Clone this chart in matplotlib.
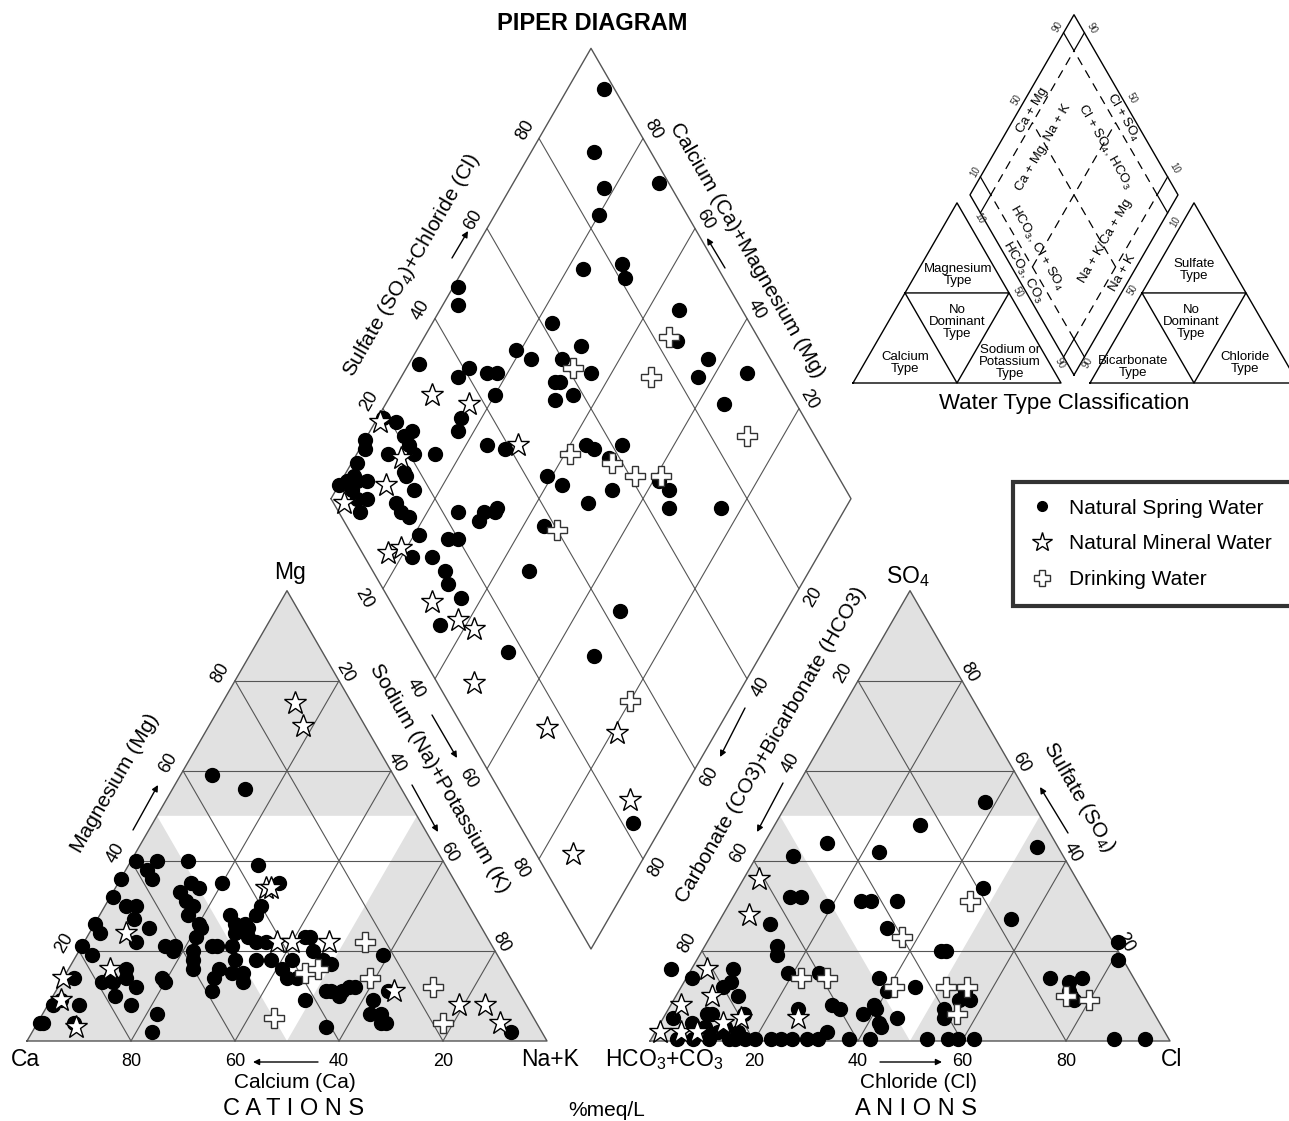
import numpy as np
import matplotlib.pyplot as plt
from matplotlib.lines import Line2D

plt.rcParams['font.family'] = ['Liberation Sans', 'DejaVu Sans']
plt.rcParams['mathtext.fontset'] = 'custom'
plt.rcParams['mathtext.rm'] = 'Liberation Sans'
plt.rcParams['mathtext.it'] = 'Liberation Sans'

# ---------------- data, %meq/L ----------------
# cation triangle: (Mg, Na+K); Ca is the remainder
spring_cat_mg = [59, 56, 40, 40, 38, 36, 40, 36, 35, 33, 34, 35, 39, 35, 32, 30, 30, 31, 30, 28,
                 27, 26, 24, 25, 22, 26, 25, 28, 26, 30, 28, 26, 25, 24, 23, 21, 21, 21, 22, 23,
                 22, 21, 21, 20, 20, 21, 19, 16, 14, 13, 14, 12, 14, 16, 18, 18, 16, 15, 15, 14,
                 11, 18, 18, 16, 18, 14, 23, 23, 20, 18, 17, 9, 11, 10, 12, 19, 9, 6, 6, 4,
                 11, 3, 2, 2, 6, 10, 8, 8, 8, 9, 14, 4, 4, 4, 14, 13, 13, 13, 11, 11, 12, 4]
spring_cat_nak = [6, 14, 1, 5, 4, 6, 11, 0, 14, 13, 16, 20, 25, 31, 0.5, 4, 6, 15, 17, 17,
                  7, 0, 2, 11, 10, 20, 21, 25, 27, 30, 30, 29, 30, 28, 21, 25, 26, 29, 33, 31,
                  35, 16, 18, 18, 22, 0, 3, 11, 9, 8, 12, 15, 19, 24, 23, 31, 29, 32, 34, 29,
                  30, 35, 38, 41, 42, 45, 42, 43, 45, 48, 50, 49, 52, 55, 56, 59, 62, 63, 65, 66,
                  64, 56, 92, 23, 22, 12, 16, 6, 1, 2, 2, 0.5, 1, 7, 43, 10, 20, 35, 53, 55, 57, 67]
mineral_cat_mg = [75, 70, 34, 34, 24, 22, 22, 22, 16, 14, 9, 3, 11, 8, 8, 4]
mineral_cat_nak = [14, 18, 29, 30, 7, 37, 40, 47, 8, 0, 2, 8, 65, 79, 84, 89]
drinking_cat_mg = [22, 14, 15, 16, 12, 4, 5]
drinking_cat_nak = [54, 59, 46, 48, 72, 78, 45]

# anion triangle: (SO4, Cl); HCO3+CO3 is the remainder
spring_an_so4 = [53, 48, 44, 41, 42, 43, 34, 32, 32, 30, 31, 31, 31, 27, 26, 25, 21, 19, 20, 20,
                 22, 18, 16, 14, 16, 13, 15, 15, 12, 10, 6, 5, 14, 11, 12, 8, 7, 6, 8, 7,
                 4, 3, 5, 7, 2, 7, 11, 9, 9, 14, 14, 13, 11, 10, 9, 5, 6, 4, 3, 2,
                 3, 2, 6,
                 0.5, 0.5, 0.5, 0.5, 0.5, 0.5, 0.5, 0.5, 0.5, 0.5, 0.5, 0.5, 0.5, 0.5, 0.5, 0.5,
                 0.5, 0.5, 0.5, 0.5]
spring_an_cl = [38, 28, 12, 7, 23, 53, 47, 11, 13, 19, 25, 27, 32, 56, 10, 33, 14, 15, 46, 47,
                79, 81, -4, 1, 8, 9, 19, 25, 8, 12, 8, 2, 37, 40, 45, 31, 33, 38, 39, 40,
                42, 43, 45, 25, 33, 53, 55, 55, 57, 70, 76, 74, 75, 76, 77, 54, 9, 6, 9, 12,
                13, 16, 15,
                5, 8, 11, 15, 16, 18, 20, 23, 25, 27, 30, 32, 38, 42, 53, 57,
                59, 62, 89, 95]
mineral_an_so4 = [36, 28, 16, 10, 8, 5, 5, 2, 2, 2, 4]
mineral_an_cl = [3, 5, 3, 7, 2, 15, 26, 1, 5, 8, 12]
drinking_an_so4 = [31, 23, 14, 14, 12, 12, 12, 6, 10, 9]
drinking_an_cl = [46, 37, 22, 27, 41, 51, 55, 56, 75, 80]

# diamond: (Na+K, SO4+Cl)
spring_dia_nak = [7, 12, 18, 20, 28, 30, 32, 23, 1, 3, 23, 31, 19, 23, 29, 36, 30, 31, 32, 35,
                  46, 49, 57, 57, 65, 2, 12, 16, 18, 11, 20, 16, 17, 1, 4, 8, 7, 9, 11, 0,
                  1, 1, 6, 15, 24, 28, 11, 12, 15, 0, 1, 2, 3, 5, 3, 5, 7, 7, 13, 15,
                  17, 26, 31, 33, 33, 31, 39, 43, 44, 43, 45, 50, 49, 53, 50, 61, 64, 66, 21, 27,
                  29, 22, 26, 30, 32, 36, 35, 46, 68, 51, 68, 94, 66, 76]
spring_dia_so4cl = [98, 89, 87, 83, 98, 82, 81, 74, 48, 46, 62, 65, 52, 54, 60, 64, 56, 57, 54, 58,
                    88, 84, 88, 84, 86, 32, 41, 44, 46, 38, 43, 34, 32, 19, 21, 23, 21, 21, 21, 13,
                    12, 9, 16, 25, 36, 39, 17, 17, 17, 3, 5, 7, 7, 9, 5, 5, 7, 4, 12, 12,
                    13, 23, 28, 31, 30, 26, 44, 46, 38, 55, 56, 62, 58, 55, 49, 65, 66, 64, 13, 18,
                    20, 9, 13, 14, 13, 14, 7, 30, 43, 17, 33, 22, 94, 74]
mineral_dia_nak = [8, 16, 1, 9, 9, 3, 30, 17, 19, 31, 38, 42, 48, 67, 81, 91, 86]
mineral_dia_so4cl = [31, 37, 18, 18, 12, 2, 42, 5, 8, 8, 11, 13, 7, 16, 29, 24, 7]
drinking_dia_nak = [47, 32, 48, 73, 41, 50, 56, 61, 47, 80]
drinking_dia_so4cl = [83, 61, 75, 87, 51, 58, 61, 66, 40, 35]

# ---------------- layout ----------------
SIDE = 520.0
H = SIDE * np.sqrt(3) / 2
CAT0 = (27.0, 1041.0)
AN0 = (650.0, 1041.0)
DIA0 = (591.0, 949.0)

GREY = '#e1e1e1'
LINE = '#555555'


def cat_xy(mg, nak):
    mg = np.asarray(mg, float) / 100
    nak = np.asarray(nak, float) / 100
    return CAT0[0] + SIDE * (nak + mg / 2), CAT0[1] - H * mg


def an_xy(so4, cl):
    so4 = np.asarray(so4, float) / 100
    cl = np.asarray(cl, float) / 100
    return AN0[0] + SIDE * (cl + so4 / 2), AN0[1] - H * so4


def dia_xy(nak, so4cl):
    u = 1 - np.asarray(nak, float) / 100
    a = np.asarray(so4cl, float) / 100
    return DIA0[0] + SIDE / 2 * (a - u), DIA0[1] - H * (a + u)


fig = plt.figure(figsize=(12.89, 11.21), dpi=100)
ax = fig.add_axes([0, 0, 1, 1])
ax.set_xlim(0, 1289)
ax.set_ylim(1121, 0)
ax.axis('off')


def draw_ternary(xy):
    # xy(top, right) -> pixel position
    tx, ty = xy([0, 0, 100, 0], [0, 100, 0, 0])
    ax.fill(tx, ty, color=GREY, lw=0, zorder=0)
    wx, wy = xy([50, 50, 0], [0, 50, 50])
    ax.fill(wx, wy, color='white', lw=0, zorder=0)
    for v in (20, 40, 60, 80):
        for t, r in (([v, v], [0, 100 - v]), ([0, 100 - v], [v, v]), ([100 - v, 0], [0, 100 - v])):
            gx, gy = xy(t, r)
            ax.plot(gx, gy, color=LINE, lw=0.8, zorder=1)
    ax.plot(tx, ty, color=LINE, lw=1.0, zorder=1)


draw_ternary(cat_xy)
draw_ternary(an_xy)

# diamond grid
for v in (20, 40, 60, 80):
    gx, gy = dia_xy([v, v], [0, 100])
    ax.plot(gx, gy, color=LINE, lw=0.8, zorder=1)
    gx, gy = dia_xy([0, 100], [v, v])
    ax.plot(gx, gy, color=LINE, lw=0.8, zorder=1)
ox, oy = dia_xy([0, 100, 100, 0, 0], [0, 0, 100, 100, 0])
ax.plot(ox, oy, color=LINE, lw=1.0, zorder=1)

# ---------------- samples ----------------
dot = dict(ls='none', marker='o', ms=10, color='black', zorder=3)
star = dict(ls='none', marker='*', ms=17, mfc='white', mec='black', mew=1.0, zorder=4)
plus = dict(ls='none', marker='P', ms=14, mfc='white', mec='#333333', mew=1.0, zorder=5)

ax.plot(*cat_xy(spring_cat_mg, spring_cat_nak), **dot)
ax.plot(*cat_xy(mineral_cat_mg, mineral_cat_nak), **star)
ax.plot(*cat_xy(drinking_cat_mg, drinking_cat_nak), **plus)

ax.plot(*an_xy(spring_an_so4, spring_an_cl), **dot)
ax.plot(*an_xy(mineral_an_so4, mineral_an_cl), **star)
ax.plot(*an_xy(drinking_an_so4, drinking_an_cl), **plus)

ax.plot(*dia_xy(spring_dia_nak, spring_dia_so4cl), **dot)
ax.plot(*dia_xy(mineral_dia_nak, mineral_dia_so4cl), **star)
ax.plot(*dia_xy(drinking_dia_nak, drinking_dia_so4cl), **plus)

# ---------------- tick labels ----------------
TK = 13
for v in (20, 40, 60, 80):
    x, y = cat_xy(0, 100 - v)
    ax.text(x, y + 21, str(v), fontsize=TK, ha='center', va='center')
    x, y = cat_xy(v, 0)
    ax.text(x - 15, y - 8, str(v), fontsize=TK, ha='center', va='center', rotation=60)
    x, y = cat_xy(100 - v, v)
    ax.text(x + 6, y - 8, str(v), fontsize=TK, ha='center', va='center', rotation=-60)

    x, y = an_xy(0, v)
    ax.text(x, y + 21, str(v), fontsize=TK, ha='center', va='center')
    x, y = an_xy(100 - v, 0)
    ax.text(x - 15, y - 8, str(v), fontsize=TK, ha='center', va='center', rotation=60)
    x, y = an_xy(v, 100 - v)
    ax.text(x + 7, y - 8, str(v), fontsize=TK, ha='center', va='center', rotation=-60)

    x, y = dia_xy(0, v)
    ax.text(x - 14, y - 8, str(v), fontsize=TK, ha='center', va='center', rotation=60)
    x, y = dia_xy(100 - v, 100)
    ax.text(x + 10, y - 9, str(v), fontsize=TK, ha='center', va='center', rotation=-60)
    x, y = dia_xy(v, 0)
    ax.text(x - 19, y + 10, str(v), fontsize=TK, ha='center', va='center', rotation=-60)
    x, y = dia_xy(100, 100 - v)
    ax.text(x + 14, y + 8, str(v), fontsize=TK, ha='center', va='center', rotation=60)

# ---------------- axis titles ----------------
AT = 15
ax.text(592, 23, 'PIPER DIAGRAM', fontsize=17, fontweight='bold', ha='center', va='center')
ax.text(411, 265, 'Sulfate (SO$_4$)+Chloride (Cl)', fontsize=AT, rotation=60, ha='center', va='center')
ax.text(747, 250, 'Calcium (Ca)+Magnesium (Mg)', fontsize=AT, rotation=-60, ha='center', va='center')
ax.text(115, 783, 'Magnesium (Mg)', fontsize=AT, rotation=60, ha='center', va='center')
ax.text(440, 778, 'Sodium (Na)+Potassium (K)', fontsize=AT, rotation=-60, ha='center', va='center')
ax.text(771, 745, 'Carbonate (CO3)+Bicarbonate (HCO3)', fontsize=AT, rotation=60, ha='center', va='center')
ax.text(1079, 797, 'Sulfate (SO$_4$)', fontsize=AT, rotation=-60, ha='center', va='center')
ax.text(295, 1083, 'Calcium (Ca)', fontsize=AT, ha='center', va='center')
ax.text(918, 1083, 'Chloride (Cl)', fontsize=AT, ha='center', va='center')
ax.text(294, 1109, 'C A T I O N S', fontsize=17, ha='center', va='center')
ax.text(916, 1109, 'A N I O N S', fontsize=17, ha='center', va='center')
ax.text(607, 1110, '%meq/L', fontsize=AT, ha='center', va='center')

CN = 16.5
ax.text(25, 1060, 'Ca', fontsize=CN, ha='center', va='center')
ax.text(550, 1060, 'Na+K', fontsize=CN, ha='center', va='center')
ax.text(664, 1060, 'HCO$_3$+CO$_3$', fontsize=CN, ha='center', va='center')
ax.text(1172, 1060, 'Cl', fontsize=CN, ha='center', va='center')
ax.text(290, 572, 'Mg', fontsize=CN, ha='center', va='center')
ax.text(908, 577, 'SO$_4$', fontsize=CN, ha='center', va='center')

arrow = dict(arrowstyle='-|>', color='black', lw=1.0, mutation_scale=9, shrinkA=0, shrinkB=0)
for start, end in (((133, 830), (158, 785)),
                   ((432, 715), (457, 758)), ((412, 785), (438, 832)),
                   ((745, 708), (720, 757)), ((783, 783), (757, 832)),
                   ((1068, 833), (1040, 787)),
                   ((452, 258), (468, 231)), ((725, 268), (707, 238)),
                   ((318, 1062), (253, 1062)), ((880, 1062), (942, 1062))):
    ax.annotate('', xy=end, xytext=start, arrowprops=arrow)

# ---------------- legend ----------------
handles = [Line2D([], [], ls='none', marker='o', ms=7, color='black', label='Natural Spring Water'),
           Line2D([], [], ls='none', marker='*', ms=15, mfc='white', mec='black', mew=1.0,
                  label='Natural Mineral Water'),
           Line2D([], [], ls='none', marker='P', ms=12, mfc='white', mec='#333333', mew=1.0,
                  label='Drinking Water')]
leg = ax.legend(handles=handles, loc='upper left', mode='expand',
                bbox_to_anchor=(1013 / 1289, 1 - 482 / 1121 - 0.01, 290 / 1289, 0.01),
                fontsize=15, frameon=True, fancybox=False, borderaxespad=0, borderpad=0.8,
                labelspacing=0.8, handletextpad=0.7, handlelength=1.2)
leg.get_frame().set_edgecolor('black')
leg.get_frame().set_linewidth(3)

# ---------------- water type classification sketch ----------------
IS = 208.0
IH = IS * np.sqrt(3) / 2


def ins_triangle(x0, y0):
    ax.plot([x0, x0 + IS, x0 + IS / 2, x0], [y0, y0, y0 - IH, y0], color='black', lw=1.0)
    ax.plot([x0 + IS / 4, x0 + 3 * IS / 4, x0 + IS / 2, x0 + IS / 4],
            [y0 - IH / 2, y0 - IH / 2, y0, y0 - IH / 2], color='black', lw=1.0)


def ins_d(a, u):
    a = np.asarray(a, float)
    u = np.asarray(u, float)
    return 1074 + IS / 2 * (a - u), 375 - IH * (a + u)


ins_triangle(853, 383)
ins_triangle(1090, 383)
ax.plot(*ins_d([0, 0, 1, 1, 0], [0, 1, 1, 0, 0]), color='black', lw=1.0)
for f in (0.1, 0.9):
    for seg, ls in (([0, 0.1], '-'), ([0.1, 0.9], (0, (7, 5))), ([0.9, 1], '-')):
        ax.plot(*ins_d([f, f], seg), color='black', lw=0.9, ls=ls)
        ax.plot(*ins_d(seg, [f, f]), color='black', lw=0.9, ls=ls)
ax.plot(*ins_d([0.5, 0.5], [0.1, 0.9]), color='black', lw=0.9, ls=(0, (7, 5)))
ax.plot(*ins_d([0.1, 0.9], [0.5, 0.5]), color='black', lw=0.9, ls=(0, (7, 5)))

IT = 9.5
for txt, x, y in (('Magnesium\nType', 958, 275), ('No\nDominant\nType', 957, 322),
                  ('Calcium\nType', 905, 363), ('Sodium or\nPotassium\nType', 1010, 362),
                  ('Sulfate\nType', 1194, 270), ('No\nDominant\nType', 1191, 322),
                  ('Bicarbonate\nType', 1133, 367), ('Chloride\nType', 1245, 363)):
    ax.text(x, y, txt, fontsize=IT, ha='center', va='center', linespacing=1.05)

for txt, x, y, rot in (('Ca + Mg', 1032, 110, 60), ('Cl + SO$_4$', 1123, 118, -60),
                       ('Ca + Mg, Na + K', 1043, 147, 60), ('Cl + SO$_4$, HCO$_3$', 1105, 147, -60),
                       ('HCO$_3$, Cl + SO$_4$', 1037, 248, -60), ('HCO$_3$, CO$_3$', 1023, 272, -60),
                       ('Na + K/Ca + Mg', 1105, 241, 60), ('Na + K', 1123, 273, 60)):
    ax.text(x, y, txt, fontsize=IT, ha='center', va='center', rotation=rot)

for txt, x, y, rot in (('90', 1058, 27, 60), ('50', 1017, 100, 60), ('10', 975, 172, 60),
                       ('90', 1092, 28, -60), ('50', 1132, 98, -60), ('10', 1175, 168, -60),
                       ('10', 980, 218, -60), ('50', 1018, 292, -60), ('90', 1060, 363, -60),
                       ('10', 1175, 222, 60), ('50', 1133, 290, 60), ('90', 1088, 363, 60)):
    ax.text(x, y, txt, fontsize=7, ha='center', va='center', rotation=rot, color='#333333')

ax.text(1064, 403, 'Water Type Classification', fontsize=16, ha='center', va='center')

fig.savefig('out.png', dpi=100)
